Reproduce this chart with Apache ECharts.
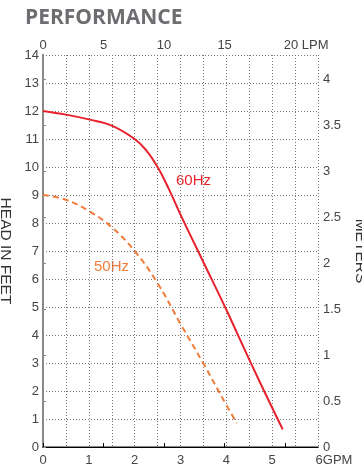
<!DOCTYPE html>
<html>
<head>
<meta charset="utf-8">
<script src="https://cdn.jsdelivr.net/npm/echarts@6/dist/echarts.min.js"></script>
<style>
html,body{margin:0;padding:0;background:#fff;}
#c{width:362px;height:467px;}
</style>
</head>
<body>
<div id="c"></div>
<script>
// Flow in GPM, head in feet
var gpm60 = [0, 0.5, 1, 1.5, 2, 2.25, 2.5, 2.75, 3, 3.5, 4, 4.5, 5, 5.23];
var head60 = [12, 11.87, 11.7, 11.48, 11.0, 10.6, 10.0, 9.2, 8.3, 6.6, 4.9, 3.12, 1.4, 0.63];
var gpm50 = [0, 0.5, 1, 1.5, 2, 2.5, 3, 3.5, 4, 4.23];
var head50 = [9, 8.83, 8.43, 7.85, 7.0, 5.85, 4.4, 2.98, 1.5, 0.85];
var gpmTicks = [0, 1, 2, 3, 4, 5, 6];
var lpmTicks = [0, 5, 10, 15, 20];
var feetTicks = [0,1,2,3,4,5,6,7,8,9,10,11,12,13,14];
var meterTicks = [0, 0.5, 1, 1.5, 2, 2.5, 3, 3.5, 4];
var GPM_TO_LPM = 3.78541;
var FT_TO_M = 0.3048;

function pairs(xs, ys){ return xs.map(function(x,i){ return [x, ys[i]]; }); }

var gpmMax = gpmTicks[gpmTicks.length-1];
var ftMax = feetTicks[feetTicks.length-1];
var chart = echarts.init(document.getElementById('c'), null, {renderer:'canvas'});
var labelFont = {color:'#444', fontSize:13, fontFamily:'Liberation Sans, Arial, sans-serif'};
var dotted = {color:'#777', width:1, type:[1,2]};
chart.setOption({
  animation:false,
  backgroundColor:'#fff',
  title:{text:'PERFORMANCE', left:25, top:8, padding:0,
    textStyle:{color:'#6d6e71', fontSize:21, fontWeight:'bold', fontFamily:'Open Sans, sans-serif'}},
  grid:{left:43, right:44, top:55, bottom:20, containLabel:false, outerBoundsMode:'none'},
  xAxis:[{
    type:'value', position:'bottom', min:0, max:gpmMax, interval:1,
    axisLine:{show:true, lineStyle:{color:'#888', width:2}},
    axisTick:{show:false},
    splitLine:{show:false},
    axisLabel:Object.assign({margin:7, formatter:function(v){
      return v===gpmMax ? '{g|'+v+'GPM}' : String(v);
    }, rich:{g:Object.assign({padding:[0,0,0,32]}, labelFont)}}, labelFont),
    z:3
  },{
    type:'value', position:'top', min:0, max:gpmMax*GPM_TO_LPM, interval:5,
    axisLine:{show:true, lineStyle:{color:'#000', width:1}},
    axisTick:{show:true, length:4, lineStyle:{color:'#000'}},
    splitLine:{show:false},
    axisLabel:Object.assign({margin:3, showMaxLabel:false, formatter:function(v){
      return v===lpmTicks[lpmTicks.length-1] ? '{g|'+v+' LPM}' : String(v);
    }, rich:{g:Object.assign({padding:[0,0,0,42]}, labelFont)}}, labelFont),
    z:3
  },{
    type:'value', position:'bottom', min:0, max:gpmMax, interval:0.5,
    axisLine:{show:false}, axisTick:{show:false}, axisLabel:{show:false},
    splitLine:{show:true, lineStyle:dotted}
  }],
  yAxis:[{
    type:'value', position:'left', min:0, max:ftMax, interval:1,
    name:'HEAD IN FEET', nameLocation:'middle', nameRotate:-90, nameGap:30,
    nameTextStyle:{color:'#333', fontSize:15.5, fontFamily:'Liberation Sans, Arial, sans-serif'},
    axisLine:{show:true, lineStyle:{color:'#888', width:2}},
    axisTick:{show:false},
    splitLine:{show:true, lineStyle:dotted},
    axisLabel:Object.assign({margin:4}, labelFont),
    z:3
  },{
    type:'value', position:'right', min:0, max:ftMax*FT_TO_M, interval:0.5,
    name:'METERS', nameLocation:'middle', nameRotate:-90, nameGap:34,
    nameTextStyle:{color:'#333', fontSize:15.5, fontFamily:'Liberation Sans, Arial, sans-serif'},
    axisLine:{show:true, lineStyle:{color:'#888', width:2}},
    axisTick:{show:true, length:3, lineStyle:{color:'#888'}},
    splitLine:{show:false},
    axisLabel:Object.assign({margin:5, showMaxLabel:false}, labelFont),
    z:3
  }],
  series:[{
    name:'60Hz', type:'line', xAxisIndex:0, yAxisIndex:0,
    data:pairs(gpm60, head60), smooth:0.4, showSymbol:false,
    lineStyle:{color:'#e8222d', width:2}
  },{
    name:'50Hz', type:'line', xAxisIndex:0, yAxisIndex:0,
    data:pairs(gpm50, head50), smooth:0.4, showSymbol:false,
    lineStyle:{color:'#f07b3a', width:2, type:[6,4]}
  }],
  graphic:[
    {type:'text', left:176, top:173, style:{text:'60Hz', fill:'#e8222d', font:'15px Liberation Sans, Arial, sans-serif'}},
    {type:'text', left:94, top:259, style:{text:'50Hz', fill:'#f07b3a', font:'15px Liberation Sans, Arial, sans-serif'}}
  ]
});
</script>
</body>
</html>
